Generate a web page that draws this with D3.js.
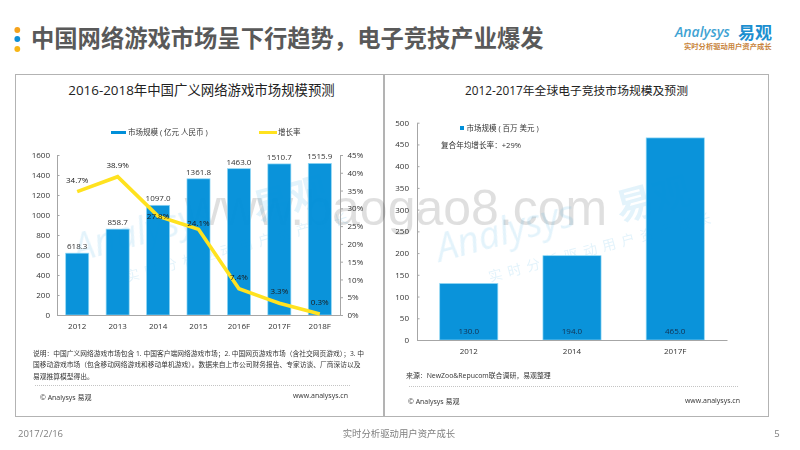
<!DOCTYPE html>
<html>
<head>
<meta charset="utf-8">
<title>中国网络游戏市场呈下行趋势</title>
<script src="https://d3js.org/d3.v7.min.js"></script>
<style>
  html, body { margin: 0; background: #fff; }
  svg { display: block; }
  text { font-family: "Open Sans", "Noto Sans CJK SC", sans-serif; }
</style>
</head>
<body>
<svg id="chart" width="800" height="450"></svg>
<script>
// left chart
const gameYears = ["2012", "2013", "2014", "2015", "2016F", "2017F", "2018F"];
const gameSize = [618.3, 858.7, 1097.0, 1361.8, 1463.0, 1510.7, 1515.9];
const gameGrowth = [34.7, 38.9, 27.8, 24.1, 7.4, 3.3, 0.3];
// right chart
const esportYears = ["2012", "2014", "2017F"];
const esportSize = [130.0, 194.0, 465.0];

// how far each growth label sits above its point, the original moves them by hand
const growthLabelLift = [9, 9, -3, 3, 9, 9, 9];

const BLUE = "#008fd9", EDGE = "#8fd8f5", YELLOW = "#ffe21f", GREY = "#b3b3b3", TXT = "#333";
const svg = d3.select("#chart");

function label(x, y, s, size, opts) {
  opts = opts || {};
  return svg.append("text").attr("x", x).attr("y", y)
    .attr("font-size", size)
    .attr("fill", opts.fill || TXT)
    .attr("font-weight", opts.weight || null)
    .attr("text-anchor", opts.anchor || "start")
    .text(s);
}

// header
[[30, "#f5a21b"], [39, "#0f8fd6"], [49, "#f7b617"]].forEach(function(d) {
  svg.append("circle").attr("cx", 17.3).attr("cy", d[0]).attr("r", 2.9).attr("fill", d[1]);
});
label(31, 47, "中国网络游戏市场呈下行趋势，电子竞技产业爆发", 23.3, {fill: "#595959", weight: 700});

// logo
svg.append("text").attr("x", 675).attr("y", 37).attr("font-size", 14).attr("font-style", "italic")
  .attr("font-weight", 600).attr("fill", "#3fa3d3").text("Analysys");
label(738, 39, "易观", 17, {fill: "#1c8fd0", weight: 700});
label(684, 49, "实时分析驱动用户资产成长", 7.3, {fill: "#c8843c", weight: 700});

// panels
svg.append("rect").attr("x", 15.5).attr("y", 74.5).attr("width", 753).attr("height", 342)
  .attr("fill", "none").attr("stroke", GREY).attr("stroke-width", 1);
svg.append("line").attr("x1", 384).attr("x2", 384).attr("y1", 74.5).attr("y2", 416.5)
  .attr("stroke", GREY).attr("stroke-width", 2);

label(201.5, 95, "2016-2018年中国广义网络游戏市场规模预测", 13.4, {anchor: "middle", fill: "#222"});
label(576.5, 95, "2012-2017年全球电子竞技市场规模及预测", 11.8, {anchor: "middle", fill: "#222"});

// watermark, sits under the marks and shows through them a little
svg.append("text").attr("x", 396).attr("y", 225).attr("text-anchor", "middle")
  .attr("font-size", 50).attr("fill", "#000").attr("opacity", 0.12)
  .style("font-family", "'Liberation Sans', sans-serif").text("www.baogao8.com");

function watermarkLogo(dx) {
  const g = svg.append("g").attr("fill", "#0095dc").attr("opacity", 0.11);
  g.append("text").attr("transform", "translate(" + (440 + dx) + ",262) rotate(-15)")
    .attr("font-size", 38).attr("font-style", "italic").text("Analysys");
  g.append("text").attr("transform", "translate(" + (620 + dx) + ",222) rotate(-15)")
    .attr("font-size", 38).attr("font-weight", 700).text("易观");
  g.append("text").attr("transform", "translate(" + (490 + dx) + ",282) rotate(-15)")
    .attr("font-size", 14).attr("letter-spacing", 5.6).text("实时分析驱动用户资产成长");
}
watermarkLogo(-363);
watermarkLogo(0);

function styleAxis(g) {
  g.selectAll("path,line").attr("stroke", "#a6a6a6");
  g.selectAll("text").attr("fill", TXT).attr("font-size", 8);
}

// left chart scales
const x1 = d3.scaleBand().domain(gameYears).range([57, 340]).paddingInner(0.43).paddingOuter(0.215);
const y1 = d3.scaleLinear().domain([0, 1600]).range([315, 155]);
const yR = d3.scaleLinear().domain([0, 45]).range([315, 155]);

svg.append("g").selectAll("rect").data(gameSize).join("rect")
  .attr("x", (d, i) => x1(gameYears[i]))
  .attr("y", d => y1(d))
  .attr("width", x1.bandwidth())
  .attr("height", d => y1(0) - y1(d))
  .attr("fill", BLUE).attr("fill-opacity", 0.96).attr("stroke", EDGE).attr("stroke-width", 0.7);

svg.append("g").attr("transform", "translate(57,0)")
  .call(d3.axisLeft(y1).tickValues(d3.range(0, 1601, 200)).tickSizeInner(-2.5).tickSizeOuter(0).tickPadding(7).tickFormat(d3.format("d")))
  .call(styleAxis);
svg.append("g").attr("transform", "translate(340,0)")
  .call(d3.axisRight(yR).tickValues(d3.range(0, 46, 5)).tickSizeInner(3).tickSizeOuter(0).tickPadding(4.5).tickFormat(d => d + "%"))
  .call(styleAxis);
svg.append("g").attr("transform", "translate(0,315)")
  .call(d3.axisBottom(x1).tickSize(0).tickPadding(8))
  .call(styleAxis);

svg.append("g").selectAll("text").data(gameSize).join("text")
  .attr("x", (d, i) => x1(gameYears[i]) + x1.bandwidth() / 2)
  .attr("y", d => y1(d) - 4)
  .attr("text-anchor", "middle").attr("font-size", 8).attr("fill", TXT)
  .text(d => d.toFixed(1));

const growthLine = d3.line()
  .x((d, i) => x1(gameYears[i]) + x1.bandwidth() / 2)
  .y(d => yR(d));
svg.append("path").datum(gameGrowth).attr("d", growthLine)
  .attr("fill", "none").attr("stroke", YELLOW).attr("stroke-width", 3.6);

svg.append("g").selectAll("text").data(gameGrowth).join("text")
  .attr("x", (d, i) => x1(gameYears[i]) + x1.bandwidth() / 2)
  .attr("y", (d, i) => yR(d) - growthLabelLift[i])
  .attr("text-anchor", "middle").attr("font-size", 8).attr("fill", "#1a1a1a")
  .text(d => d.toFixed(1) + "%");

// left legend
svg.append("rect").attr("x", 111).attr("y", 131).attr("width", 15).attr("height", 3).attr("fill", BLUE);
label(128, 135, "市场规模 ( 亿元 人民币 )", 7.5);
svg.append("rect").attr("x", 259).attr("y", 131).attr("width", 18).attr("height", 3).attr("fill", YELLOW);
label(278, 135, "增长率", 7.5);

// right chart scales
const x2 = d3.scaleBand().domain(esportYears).range([417, 727]).paddingInner(0.437).paddingOuter(0.22);
const y2 = d3.scaleLinear().domain([0, 500]).range([340, 122.7]);

svg.append("g").selectAll("rect").data(esportSize).join("rect")
  .attr("x", (d, i) => x2(esportYears[i]))
  .attr("y", d => y2(d))
  .attr("width", x2.bandwidth())
  .attr("height", d => y2(0) - y2(d))
  .attr("fill", BLUE).attr("fill-opacity", 0.96).attr("stroke", EDGE).attr("stroke-width", 0.7);

svg.append("g").attr("transform", "translate(417,0)")
  .call(d3.axisLeft(y2).tickValues(d3.range(0, 501, 50)).tickSizeInner(-2.5).tickSizeOuter(0).tickPadding(8).tickFormat(d3.format("d")))
  .call(styleAxis);
svg.append("g").attr("transform", "translate(0,340)")
  .call(d3.axisBottom(x2).tickSize(0).tickPadding(8))
  .call(styleAxis);

svg.append("g").selectAll("text").data(esportSize).join("text")
  .attr("x", (d, i) => x2(esportYears[i]) + x2.bandwidth() / 2)
  .attr("y", 334)
  .attr("text-anchor", "middle").attr("font-size", 8).attr("fill", "#12304f")
  .text(d => d.toFixed(1));

// right legend
svg.append("rect").attr("x", 460).attr("y", 126).attr("width", 4).attr("height", 4).attr("fill", BLUE);
label(466.5, 131, "市场规模 ( 百万 美元 )", 7.5);
label(441, 148, "复合年均增长率：+29%", 7.6);

// notes
["说明：中国广义网络游戏市场包含 1. 中国客户端网络游戏市场；2. 中国网页游戏市场（含社交网页游戏）；3. 中",
 "国移动游戏市场（包含移动网络游戏和移动单机游戏）。数据来自上市公司财务报告、专家访谈、厂商深访以及",
 "易观推算模型得出。"].forEach(function(s, i) {
  label(33, 355.5 + i * 11.9, s, 6.75);
});
label(406, 377.5, "来源：NewZoo&Repucom联合调研，易观整理", 6.9);

// panel footers
svg.append("line").attr("x1", 35).attr("x2", 351).attr("y1", 385.5).attr("y2", 385.5)
  .attr("stroke", "#aaa").attr("stroke-width", 0.7).attr("stroke-dasharray", "1 1");
svg.append("line").attr("x1", 409).attr("x2", 738).attr("y1", 386.5).attr("y2", 386.5)
  .attr("stroke", "#aaa").attr("stroke-width", 0.7).attr("stroke-dasharray", "1 1");
label(40, 400, "© Analysys 易观", 7);
label(348, 398, "www.analysys.cn", 7, {anchor: "end"});
label(408, 404, "© Analysys 易观", 7);
label(740, 403, "www.analysys.cn", 7, {anchor: "end"});

// page footer
label(18, 437, "2017/2/16", 9.5, {fill: "#7f7f7f"});
label(399, 437, "实时分析驱动用户资产成长", 9.4, {fill: "#7f7f7f", anchor: "middle"});
label(777, 437, "5", 9.5, {fill: "#7f7f7f", anchor: "middle"});
</script>
</body>
</html>
